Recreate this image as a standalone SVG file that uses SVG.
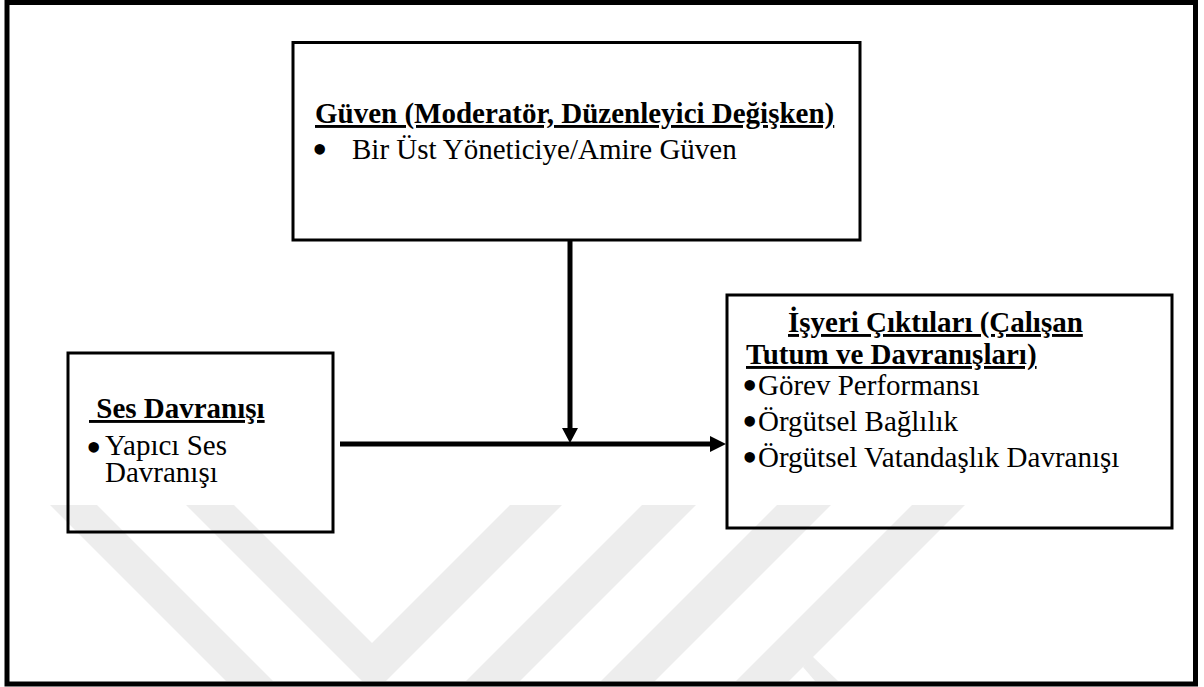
<svg xmlns="http://www.w3.org/2000/svg" width="1204" height="687" viewBox="0 0 1204 687">
<style>
.box{fill:none;stroke:#000;stroke-width:3}
.t{font-family:"Liberation Serif","Times New Roman",serif;font-size:29px;fill:#000}
.b{font-family:"Liberation Serif","Times New Roman",serif;font-size:44px;fill:#000}
.h{font-weight:bold;text-decoration:underline}
.wm{fill:#ededed}
.ln{stroke:#000;stroke-width:5;fill:none}
.ah{fill:#000}
</style>
<rect width="1204" height="687" fill="#fff"/>
<g id="watermark">
<polygon class="wm" points="50,505 97,505 273,681 226,681"/>
<polygon class="wm" points="186,505 234,505 372,643 510,505 562,505 386,681 362,681"/>
<polygon class="wm" points="642,505 696,505 520,681 466,681"/>
<polygon class="wm" points="777,505 831,505 655,681 601,681"/>
<polygon class="wm" points="912,505 965,505 789,681 736,681"/>
<polygon class="wm" points="803,667 812,656 838,681 815,681"/>
</g>
<rect id="frame" x="7" y="2.5" width="1188.5" height="681.5" fill="none" stroke="#000" stroke-width="5"/>
<g id="guven">
<rect class="box" x="293" y="42.5" width="567" height="197.5"/>
<text class="t h" x="315" y="123">Güven (Moderatör, Düzenleyici Değişken)</text>
<text class="b" x="312" y="164">•</text>
<text class="t" x="352" y="159">Bir Üst Yöneticiye/Amire Güven</text>
</g>
<g id="ses">
<rect class="box" x="68" y="353" width="265" height="179"/>
<text class="t h" x="89" y="418">&#160;Ses Davranışı</text>
<text class="b" x="86" y="462">•</text>
<text class="t" x="105" y="455">Yapıcı Ses</text>
<text class="t" x="105" y="482">Davranışı</text>
</g>
<g id="isyeri">
<rect class="box" x="727" y="295" width="445" height="233"/>
<text class="t h" x="788" y="332">İşyeri Çıktıları (Çalışan</text>
<text class="t h" x="746" y="364">Tutum ve Davranışları)</text>
<text class="b" x="742" y="400">•</text>
<text class="t" x="758" y="395">Görev Performansı</text>
<text class="b" x="742" y="436">•</text>
<text class="t" x="758" y="431">Örgütsel Bağlılık</text>
<text class="b" x="742" y="472">•</text>
<text class="t" x="758" y="467">Örgütsel Vatandaşlık Davranışı</text>
</g>
<g id="connectors">
<line class="ln" x1="570" y1="240" x2="570" y2="430"/>
<polygon class="ah" points="562,428 578,428 570,443"/>
<line class="ln" x1="340" y1="444" x2="712" y2="444"/>
<polygon class="ah" points="710,436 710,452 726,444"/>
</g>
</svg>
